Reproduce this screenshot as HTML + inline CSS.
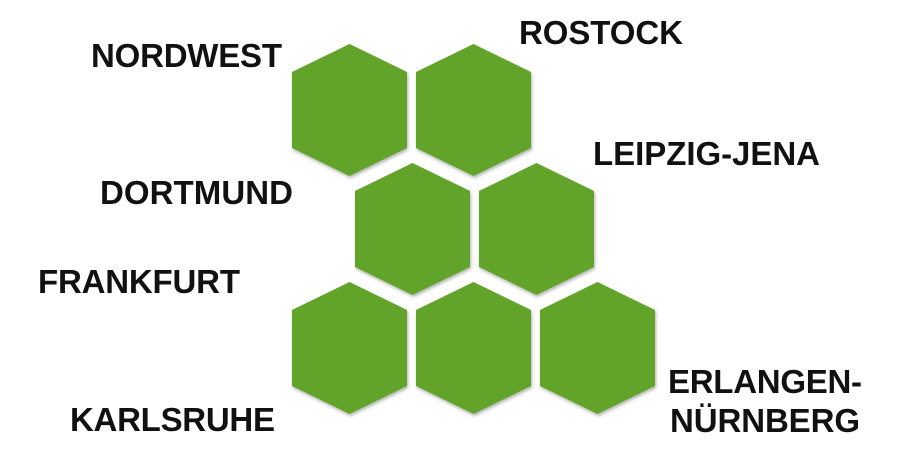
<!DOCTYPE html>
<html><head><style>body{margin:0;background:#fff}svg{display:block}</style></head><body>
<svg width="897" height="462" xmlns="http://www.w3.org/2000/svg">
<defs>
<filter id="s" x="-10%" y="-10%" width="120%" height="120%"><feDropShadow dx="1" dy="2" stdDeviation="1.5" flood-color="#000" flood-opacity="0.3"/></filter>
<polygon id="h" points="0,-66 57.5,-38 57.5,38 0,66 -57.5,38 -57.5,-38"/>
</defs>
<g fill="#62a329" filter="url(#s)">
<use href="#h" x="349.5" y="110"/>
<use href="#h" x="473.5" y="110"/>
<use href="#h" x="412.5" y="229"/>
<use href="#h" x="536.5" y="229"/>
<use href="#h" x="349.5" y="348"/>
<use href="#h" x="473.5" y="348"/>
<use href="#h" x="597.5" y="348"/>
</g>
<g font-family="Liberation Sans, Arial, sans-serif" font-weight="bold" font-size="33" fill="#111" lengthAdjust="spacingAndGlyphs">
<text x="91" y="67" textLength="191">NORDWEST</text>
<text x="519" y="44" textLength="164">ROSTOCK</text>
<text x="593" y="165" textLength="227">LEIPZIG-JENA</text>
<text x="100" y="204" textLength="193">DORTMUND</text>
<text x="38" y="293" textLength="202">FRANKFURT</text>
<text x="70" y="431" textLength="205">KARLSRUHE</text>
<text x="668" y="393" textLength="194">ERLANGEN-</text>
<text x="670" y="432" textLength="190">NÜRNBERG</text>
</g>
</svg>
</body></html>
